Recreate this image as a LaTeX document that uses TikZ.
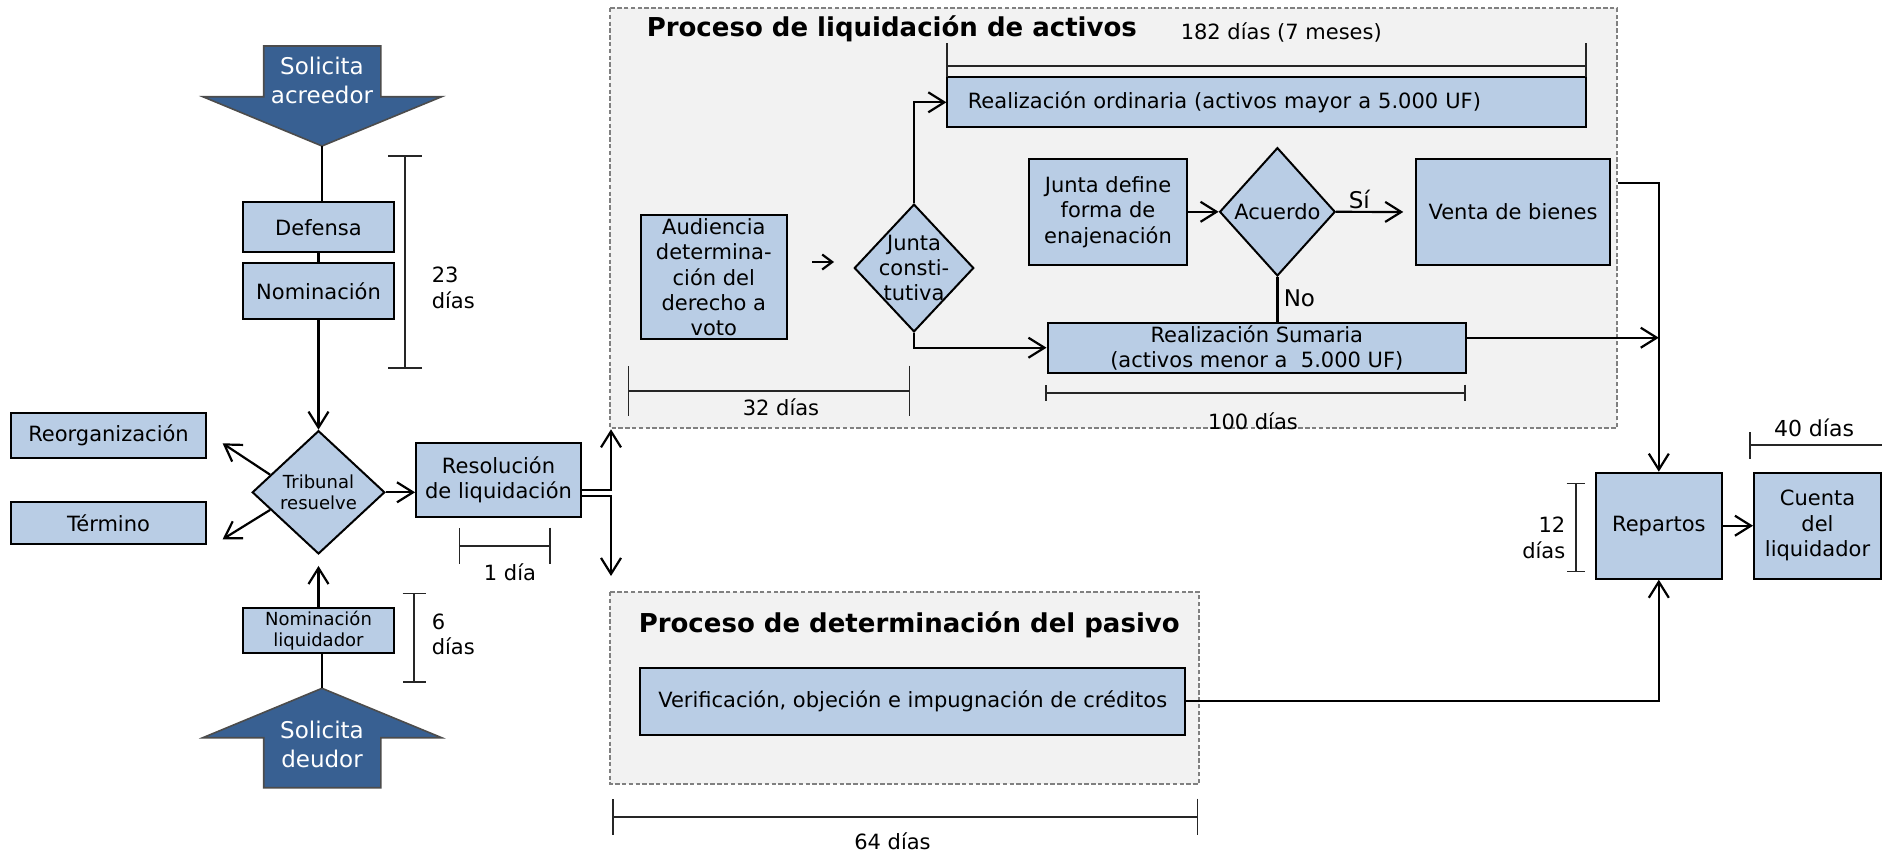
\documentclass[tikz,border=0pt]{standalone}
\usepackage{fontspec}
\setmainfont{DejaVu Sans}
\usetikzlibrary{shapes.geometric,arrows.meta,calc}

\definecolor{boxblue}{RGB}{185,205,229}
\definecolor{darkblue}{RGB}{56,96,146}
\definecolor{panelgray}{RGB}{242,242,242}
\definecolor{panelline}{RGB}{128,128,128}

\newcommand{\boxfont}{\fontsize{10.5}{12.7}\selectfont}
\newcommand{\smallfont}{\fontsize{9}{10.8}\selectfont}
\newcommand{\bigfont}{\fontsize{11.5}{14.5}\selectfont}
\newcommand{\titlefont}{\fontsize{13}{15}\selectfont\bfseries}

\tikzset{every picture/.style={line width=0.75pt}}
\tikzset{
  box/.style={draw, fill=boxblue, line width=1pt, inner sep=1pt, align=center, font=\boxfont},
  decision/.style={diamond, draw, fill=boxblue, line width=1pt, inner sep=0pt, align=center, font=\boxfont},
  flow/.style={line width=1.1pt, -{Straight Barb[length=8pt,width=10pt]}},
  link/.style={line width=1.1pt},
  dimline/.style={line width=0.85pt, draw=black!85},
  dimbar/.style={dimline, arrows={Bar[width=#1]-Bar[width=#1]}},
  dimtext/.style={font=\boxfont, align=left, inner sep=0pt},
  panel/.style={draw=panelline, fill=panelgray, line width=0.6pt, dash pattern=on 2.2pt off 1.2pt},
  bigarrow/.style={draw=black!70, fill=darkblue, line width=0.8pt},
}

\begin{document}
\begin{tikzpicture}[x=0.5pt,y=0.5pt,yscale=-1]
\useasboundingbox (0,0) rectangle (1882,853);

% Panels
\draw[panel] (610,8) rectangle (1617,428);
\draw[panel] (610,592) rectangle (1199,784);
\node[anchor=west, font=\titlefont, inner sep=0pt] (liqtitle) at (646,29) {Proceso de liquidación de activos};
\node[anchor=west, font=\titlefont, inner sep=0pt] (pastitle) at (638,625) {Proceso de determinación del pasivo};

% Big arrows
\draw[bigarrow] (263.7,46) -- (380.8,46) -- (380.8,96.7) -- (441.7,96.7) -- (322,146) -- (202.8,96.7) -- (263.7,96.7) -- cycle;
\coordinate (acrtip) at (322,146);
\node[font=\bigfont, text=white, align=center] (acr) at (322,80) {Solicita\\acreedor};
\draw[bigarrow] (263.7,787.7) -- (380.8,787.7) -- (380.8,737.7) -- (441.7,737.7) -- (322,688.3) -- (202.8,737.7) -- (263.7,737.7) -- cycle;
\coordinate (deutip) at (322,688.3);
\node[font=\bigfont, text=white, align=center] (deu) at (322,744) {Solicita\\deudor};

% Text Node
\node[box, minimum width=75.3pt, minimum height=24.85pt] (def) at (318.5,227.2) {Defensa};
\node[box, minimum width=75.3pt, minimum height=28.15pt] (nom) at (318.5,290.8) {Nominación};
\node[decision, font=\smallfont, minimum width=66.3pt, minimum height=61.65pt] (trib) at (318.5,492.3) {Tribunal\\resuelve};
\node[box, minimum width=97.85pt, minimum height=22.5pt] (reorg) at (108.5,435.2) {Reorganización};
\node[box, minimum width=97.85pt, minimum height=20.85pt] (term) at (108.5,523.2) {Término};
\node[box, minimum width=82.45pt, minimum height=37.3pt] (res) at (498.5,480) {Resolución\\de liquidación};
\node[box, font=\smallfont, minimum width=75.3pt, minimum height=22.8pt] (nomliq) at (318.5,630.5) {Nominación\\liquidador};
\coordinate (reorgend) at (222.6,443.3);
\coordinate (termend) at (222.6,539.3);
\coordinate (uptip) at (611,429.3);
\coordinate (downtip) at (611,576);

% Text Node
\node[box, minimum width=319.45pt, minimum height=25pt, text width=299pt, align=left] (rord) at (1266.8,102.3) {Realización ordinaria (activos mayor a 5.000 UF)};
\node[box, minimum width=72.8pt, minimum height=62.15pt] (aud) at (713.8,277.2) {Audiencia\\determina-\\ción del\\derecho a\\voto};
\node[decision, minimum width=59.75pt, minimum height=63.85pt] (junta) at (914,268) {};
\node[font=\boxfont, align=center, inner sep=0pt] (juntatext) at (junta) {Junta\\consti-\\tutiva};
\node[box, minimum width=79.45pt, minimum height=53.15pt] (jdef) at (1108,211.8) {Junta define\\forma de\\enajenación};
\node[decision, minimum width=57.8pt, minimum height=64.15pt] (acu) at (1277.4,211.8) {Acuerdo};
\node[box, minimum width=96.75pt, minimum height=53pt] (venta) at (1513,212) {Venta de bienes};
\node[box, minimum width=209.3pt, minimum height=25pt] (sum) at (1256.8,347.7) {Realización Sumaria\\(activos menor a~~5.000 UF)};
\node[anchor=west, font=\bigfont, inner sep=0pt] (si) at (1348,199) {Sí};
\node[anchor=west, font=\bigfont, inner sep=0pt] (no) at (1283,298) {No};
\coordinate (audA) at (812,262);
\coordinate (audB) at (834,262);

% Text Node
\node[box, minimum width=272.35pt, minimum height=33.65pt] (verif) at (912.7,701.3) {Verificación, objeción e impugnación de créditos};
\node[box, minimum width=63.15pt, minimum height=53pt] (rep) at (1658.8,525.7) {Repartos};
\node[box, minimum width=63.5pt, minimum height=53pt] (cuenta) at (1817.5,525.7) {Cuenta\\del\\liquidador};

% Connection
\draw[link] (acrtip) -- (acrtip |- def.north);
\draw[link] (def.south) -- (nom.north);
\draw[flow] (nom.south) -- (trib.north);
\draw[link] (deutip) -- (deutip |- nomliq.south);
\draw[flow, shorten >=5.5pt] (nomliq.north) -- (trib.south);
\draw[flow] (trib.160) -- (reorgend);
\draw[flow] (trib.200) -- (termend);
\draw[flow] (trib.east) -- (trib.east -| res.west);
\draw[flow] ($(res.east)+(0,10)$) -| (uptip);
\draw[flow] ($(res.east)+(0,16)$) -| (downtip);
\draw[line width=1.1pt, -{Straight Barb[length=5pt,width=7.5pt]}] (audA) -- (audB);
\draw[flow] (junta.north) |- (rord.west);
\draw[flow] (junta.south) |- (sum.west);
\draw[flow] (jdef.east) -- (acu.west);
\draw[flow, shorten >=6pt] (acu.east) -- (venta.west);
\draw[link] (acu.south) -- (acu.south |- sum.north);
\coordinate (ventaout) at ($(venta.east)+(7,-29)$);
\draw[flow] (ventaout) -| (rep.north);
\coordinate (sumout) at ($(sum.east)+(0,-10)$);
\draw[flow] (sumout) -- (sumout -| rep.north);
\draw[flow] (verif.east) -| (rep.south);
\draw[flow] (rep.east) -- (cuenta.west);

% Durations
\draw[dimbar=17pt] (405,155) -- (405,369);
\node[dimtext, anchor=west] (d23) at (431,288) {23\\días};
\draw[dimbar=18pt] (458.7,545.7) -- (550.8,545.7);
\node[dimtext] (d1) at (510,572) {1 día};
\draw[dimbar=11.5pt] (414,592.7) -- (414,682.7);
\node[dimtext, anchor=west] (d6) at (431,634.5) {6\\días};
\draw[dimbar=25pt] (627.7,390.7) -- (910.3,390.7);
\node[dimtext] (d32) at (781,407) {32 días};
\draw[dimbar=8pt] (1045,392.7) -- (1465.7,392.7);
\node[dimtext] (d100) at (1253,421.7) {100 días};
\draw[dimline] (947.3,65.7) -- (1585.8,65.7);
\draw[dimline] (947.3,43.3) -- (947.3,77.3);
\draw[dimline] (1585.8,43.3) -- (1585.8,77.3);
\node[dimtext, anchor=west] (d182) at (1180,32) {182 días (7 meses)};
\draw[dimbar=18pt] (612,816.7) -- (1198.3,816.7);
\node[dimtext] (d64) at (892.5,841.7) {64 días};
\draw[dimbar=9pt] (1575.7,482.7) -- (1575.7,572.3);
\node[dimtext, anchor=east, align=right] (d12) at (1566,538) {12\\días};
\draw[dimline, arrows={Bar[width=13.5pt]-}] (1749.3,445) -- (1882,445);
\node[dimtext, font=\fontsize{11}{13}\selectfont] (d40) at (1814,427.7) {40 días};

\end{tikzpicture}
\end{document}
